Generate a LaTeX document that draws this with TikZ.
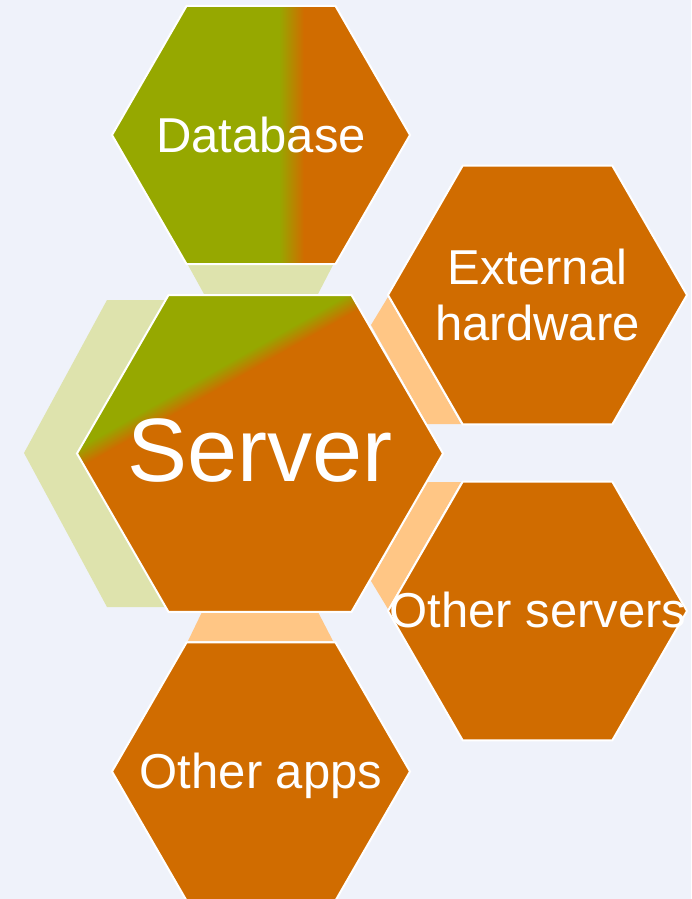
\documentclass[tikz,border=0pt]{standalone}
\usepackage{fontspec}
\setmainfont{Liberation Sans}
\definecolor{bg}{RGB}{239,242,250}
\definecolor{hexorange}{RGB}{208,108,0}
\definecolor{hexgreen}{RGB}{150,168,0}
\definecolor{palegreen}{RGB}{222,227,173}
\definecolor{paleorange}{RGB}{255,198,133}
\begin{document}
\begin{tikzpicture}[x=1pt,y=-1pt,
  hexa/.style n args={3}{insert path={(#1-#3,#2) -- (#1-#3/2,#2-0.866*#3) -- (#1+#3/2,#2-0.866*#3) -- (#1+#3,#2) -- (#1+#3/2,#2+0.866*#3) -- (#1-#3/2,#2+0.866*#3) -- cycle}},
  rim/.style={draw=white, line width=2pt, line join=miter},
  cell/.style={fill=hexorange, rim},
  lbl/.style={text=white, inner sep=0pt, align=center, font=\fontsize{49}{56}\selectfont},
]
\useasboundingbox (0,0) rectangle (691,899);
\fill[bg] (0,0) rectangle (691,899);
\clip (0,0) rectangle (691,899);

% backdrop behind the central cell
\fill[palegreen] (107,300) -- (24,453) -- (107,607) -- (250,607) -- (250,300) -- cycle;

% connecting bands
\fill[palegreen] (188,265) -- (333,265) -- (318,294) -- (204,294) -- cycle;
\fill[paleorange] (202,612) -- (318,612) -- (333,641) -- (188,641) -- cycle;
\fill[paleorange] (371,325) -- (388,297) -- (461,424) -- (427,424) -- cycle;
\fill[paleorange] (427,482) -- (461,482) -- (388,609) -- (371,581) -- cycle;

% Database cell: green to orange, left to right
\begin{scope}
  \path[clip, hexa={261}{135}{149}];
  \fill[hexorange] (100,0) rectangle (420,280);
  \foreach \k in {0,...,25} {
    \pgfmathsetmacro\t{305-\k}
    \pgfmathsetmacro\p{100*\k/25}
    \fill[hexgreen!\p!hexorange] (100,0) rectangle (\t,280);
  }
\end{scope}
\draw[rim, hexa={261}{135}{149}];

% Server cell: green corner at the upper left, blend band along a slanted line
\begin{scope}
  \path[clip, hexa={260}{453.5}{183}];
  \fill[hexorange] (60,280) rectangle (460,630);
  \foreach \k in {0,...,18} {
    \pgfmathsetmacro\t{9-\k}
    \pgfmathsetmacro\p{100*\k/18}
    \fill[hexgreen!\p!hexorange]
      ({318+0.494*\t+434.5},{323+0.869*\t-247}) --
      ({318+0.494*\t-434.5},{323+0.869*\t+247}) --
      ({318+0.494*(\t-500)-434.5},{323+0.869*(\t-500)+247}) --
      ({318+0.494*(\t-500)+434.5},{323+0.869*(\t-500)-247}) -- cycle;
  }
\end{scope}
\draw[rim, hexa={260}{453.5}{183}];

% outer cells
\path[cell, hexa={537.5}{295}{149.5}];
\path[cell, hexa={537.5}{611}{149.5}];
\path[cell, hexa={261}{771.5}{149}];

% labels
\node[lbl] (db) at (261,135) {Database};
\node[lbl, font=\fontsize{90}{100}\selectfont] (server) at (260,451) {Server};
\node[lbl] (hw) at (537.5,294.5) {External\\hardware};
\node[lbl] (srv) at (538,610) {Other servers};
\node[lbl, anchor=base] (apps) at (261,788) {Other apps};
\end{tikzpicture}
\end{document}
